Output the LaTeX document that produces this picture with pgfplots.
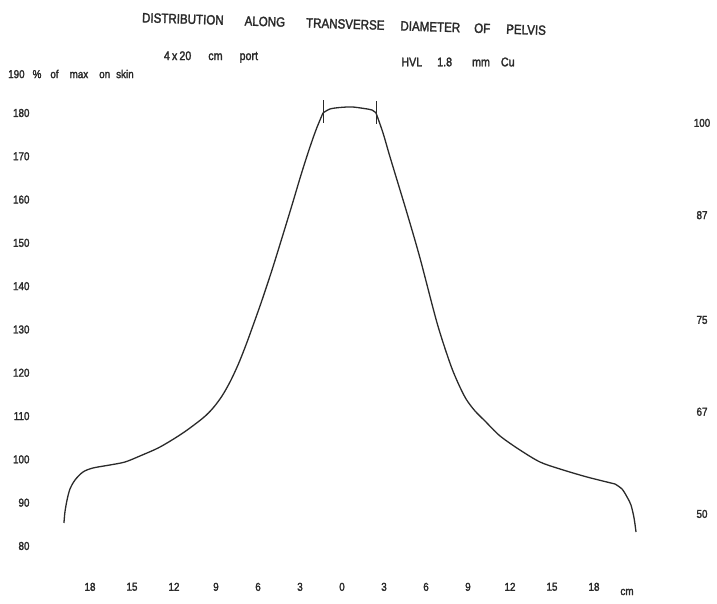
\documentclass[border=0pt]{standalone}
\usepackage{pgfplots}
\pgfplotsset{compat=1.18}
\usepackage{fontspec}
\setmainfont{Liberation Sans}
\newfontfamily\lettering[FakeStretch=0.86, FakeBold=2]{Liberation Sans}
\definecolor{ink}{HTML}{2A2A2A}
\begin{document}
\begin{tikzpicture}
\path[use as bounding box, fill=white] (0,0) rectangle (717bp,-604bp);
\begin{axis}[
  at={(48bp,-563.3bp)}, anchor=south west, scale only axis,
  width=616bp, height=502.28bp,
  xmin=-21, xmax=23, ymin=76, ymax=192,
  axis line style={draw=none}, major tick length=0pt,
  xtick={-18,-15,...,18},
  xticklabels={18,15,12,9,6,3,0,3,6,9,12,15,18},
  ytick={80,90,...,180},
  yticklabels={80,90,100,110,120,130,140,150,160,170,180},
  tick label style={font=\lettering\fontsize{11.5}{13}\selectfont, text=ink},
  yticklabel style={anchor=east, xshift=-15bp},
  xticklabel style={anchor=north, yshift=-16bp},
  clip=false,
]
% left rise
\addplot[ink, line width=1.3bp, smooth, tension=0.5] coordinates {
(-19.86,85.31) (-19.79,87.85) (-19.64,90.62) (-19.43,93.16) (-19.07,95.24)
(-18.50,97.09) (-17.79,98.01) (-16.57,98.71) (-15.50,99.40) (-14.43,100.79)
(-13.00,102.86) (-11.36,106.10) (-9.93,109.56) (-9.21,111.87) (-8.57,114.64)
(-8.00,117.88) (-7.43,121.80) (-6.86,126.42) (-6.29,131.50) (-5.71,136.81)
(-5.00,143.74) (-4.29,151.13) (-3.57,158.75) (-2.93,165.68) (-2.36,171.45)
(-1.86,176.07) (-1.36,180.0)
};
% flat top
\addplot[ink, line width=1.3bp, smooth, tension=0.5] coordinates {
(-1.36,180.0) (-0.86,180.92) (-0.14,181.27) (0.71,181.39) (1.57,181.04)
(2.14,180.69) (2.43,180.0)
};
% right fall
\addplot[ink, line width=1.3bp, smooth, tension=0.5] coordinates {
(2.43,180.0) (2.93,175.38) (3.43,169.84) (4.64,156.91) (5.57,146.50)
(6.79,131.50) (7.71,122.26) (8.29,117.64) (8.86,113.95) (9.50,111.18)
(10.21,108.87) (11.29,105.40) (12.71,102.17) (14.14,99.40) (15.57,97.78)
(17.50,95.93) (19.50,94.32)
};
% right tail
\addplot[ink, line width=1.3bp, smooth, tension=0.5] coordinates {
(19.50,94.32) (20.0,93.16) (20.36,91.32) (20.64,89.47) (20.86,86.47) (21.0,83.23)
};
% edge markers of the flat top
\addplot[ink, line width=0.7bp] coordinates {(-1.36,182.9) (-1.36,177.6)};
\addplot[ink, line width=0.7bp] coordinates {(2.43,182.7) (2.43,177.4)};
\end{axis}
% right-hand scale
\begin{axis}[
  at={(48bp,-563.3bp)}, anchor=south west, scale only axis,
  width=616bp, height=502.28bp,
  xmin=-21, xmax=23, ymin=76, ymax=192,
  axis line style={draw=none}, major tick length=0pt,
  xtick=\empty,
  ytick={177.7,156.4,132.2,111.0,87.4},
  yticklabels={100,87,75,67,50},
  yticklabel pos=right,
  tick label style={font=\lettering\fontsize{11.5}{13}\selectfont, text=ink},
  yticklabel style={anchor=center, xshift=38bp},
]
\end{axis}
% titles and annotations
\node[text=ink, font=\lettering\fontsize{13.5}{15}\selectfont, rotate=-1.8] at (344bp,-24bp)
  {DISTRIBUTION\hspace{21bp}ALONG\hspace{21bp}TRANSVERSE\hspace{16bp}DIAMETER\hspace{14bp}OF\hspace{16bp}PELVIS};
\node[text=ink, font=\lettering\fontsize{12.5}{14}\selectfont] at (211bp,-57bp)
  {4\,x\,20\hspace{17bp}cm\hspace{17bp}port};
\node[text=ink, font=\lettering\fontsize{12.5}{14}\selectfont] at (458bp,-62bp)
  {HVL\hspace{15bp}1.8\hspace{20bp}mm\hspace{11bp}Cu};
\node[text=ink, anchor=west, inner sep=0pt] at (8bp,-74bp)
  {\lettering\fontsize{11.5}{13}\selectfont 190\hspace{8bp}\fontsize{11.5}{13}\selectfont \%\hspace{9bp}of\hspace{11bp}max\hspace{11bp}on\hspace{6bp}skin};
\node[text=ink, font=\lettering\fontsize{11.5}{13}\selectfont] at (627bp,-592bp) {cm};
\end{tikzpicture}
\end{document}
